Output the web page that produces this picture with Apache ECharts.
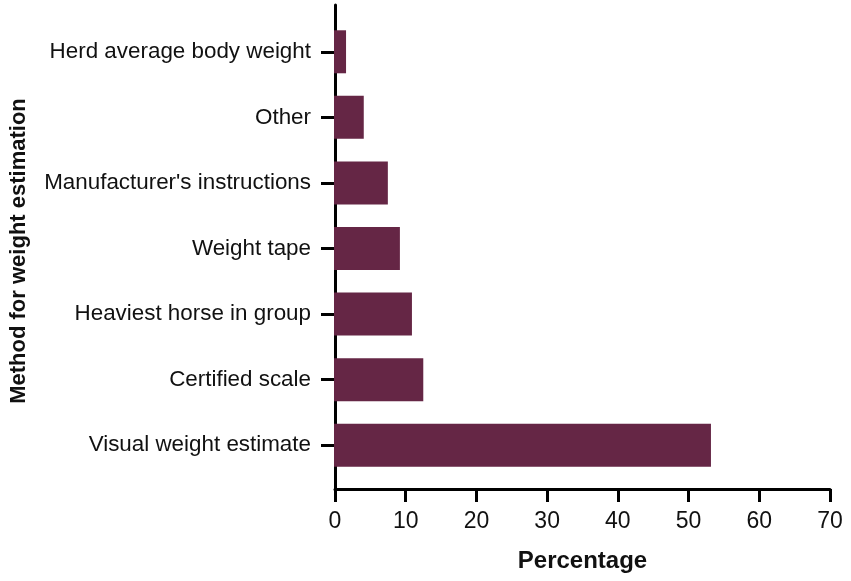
<!DOCTYPE html>
<html>
<head>
<meta charset="utf-8">
<script src="https://cdn.jsdelivr.net/npm/echarts@6/dist/echarts.min.js"></script>
<style>
html,body{margin:0;padding:0;background:#fff;}
#chart{width:851px;height:581px;}
</style>
</head>
<body>
<div id="chart"></div>
<script>
// Categories, top to bottom
const categories = [
  "Herd average body weight",
  "Other",
  "Manufacturer's instructions",
  "Weight tape",
  "Heaviest horse in group",
  "Certified scale",
  "Visual weight estimate"
];
const percentages = [1.7, 4.2, 7.6, 9.3, 11.0, 12.6, 53.2];
const xTicks = [0, 10, 20, 30, 40, 50, 60, 70];
const xTitle = "Percentage";
const yTitle = "Method for weight estimation";

const FONT = "'Liberation Sans', Arial, sans-serif";
const chart = echarts.init(document.getElementById('chart'), null, {renderer: 'canvas'});

const option = {
  backgroundColor: '#ffffff',
  animation: false,
  grid: [
    // bars grid
    {left: 334, right: 21, top: 19, bottom: 103},
    // frame grid (axis lines)
    {left: 334, right: 21, top: 5, bottom: 92}
  ],
  xAxis: [
    {
      gridIndex: 0, type: 'value', min: xTicks[0], max: xTicks[xTicks.length - 1],
      show: false
    },
    {
      gridIndex: 1, type: 'value', min: xTicks[0], max: xTicks[xTicks.length - 1], interval: 10,
      position: 'bottom',
      axisLine: {show: true, onZero: false, lineStyle: {color: '#000', width: 3}},
      axisTick: {show: true, length: 13, lineStyle: {color: '#000', width: 3}},
      axisLabel: {show: true, color: '#111', fontSize: 23, fontFamily: FONT, margin: 21},
      splitLine: {show: false},
      name: xTitle, nameLocation: 'middle', nameGap: 60,
      nameTextStyle: {color: '#111', fontSize: 24, fontWeight: 'bold', fontFamily: FONT}
    }
  ],
  yAxis: [
    {
      gridIndex: 0, type: 'category', data: categories, inverse: true,
      axisLine: {show: false},
      axisTick: {show: true, alignWithLabel: true, length: 13, lineStyle: {color: '#000', width: 3}},
      axisLabel: {color: '#111', fontSize: 22.4, fontFamily: FONT, margin: 23},
      splitLine: {show: false}
    },
    {
      gridIndex: 1, type: 'value', min: 0, max: 1,
      axisLine: {show: true, onZero: false, lineStyle: {color: '#000', width: 3}},
      axisTick: {show: false},
      axisLabel: {show: false},
      splitLine: {show: false},
      name: yTitle, nameLocation: 'middle', nameRotate: 90, nameGap: 305,
      nameTextStyle: {color: '#111', fontSize: 22, fontWeight: 'bold', fontFamily: FONT, padding: [0, 8, 0, 0]}
    }
  ],
  series: [
    {
      type: 'bar',
      xAxisIndex: 0, yAxisIndex: 0,
      data: percentages,
      barWidth: 43,
      itemStyle: {color: '#652645'}
    }
  ]
};
chart.setOption(option);
</script>
</body>
</html>
